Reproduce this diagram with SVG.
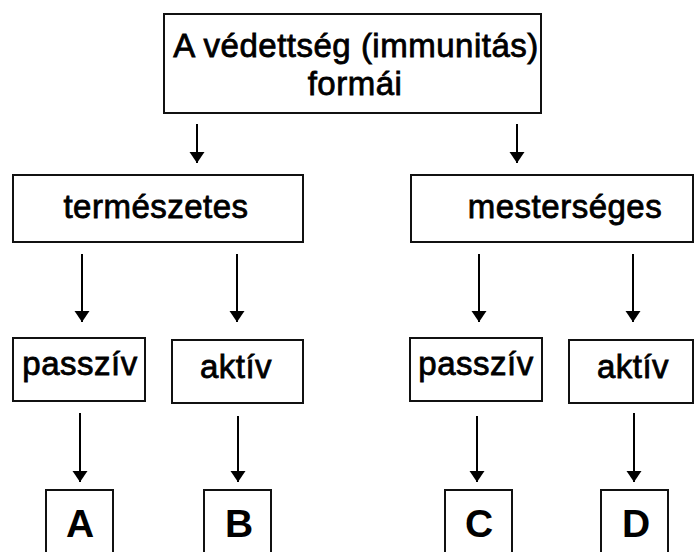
<svg xmlns="http://www.w3.org/2000/svg" width="695" height="552" viewBox="0 0 695 552">
<style>
.box{fill:#fff;stroke:#111;stroke-width:2}
.t{font-family:"Liberation Sans",Arial,sans-serif;font-size:33px;fill:#000;stroke:#000;stroke-width:0.8;text-anchor:middle;letter-spacing:0.5px}
.b{font-family:"Liberation Sans",Arial,sans-serif;font-size:39px;font-weight:bold;fill:#000;text-anchor:middle}
.c{stroke:#000;stroke-width:2;fill:none;marker-end:url(#ah)}
</style>
<defs>
<marker id="ah" markerUnits="userSpaceOnUse" markerWidth="12" markerHeight="16" refX="11" refY="7.5" orient="auto">
<path d="M0,0 L11,7.5 L0,15 Z" fill="#000"/>
</marker>
</defs>
<rect width="695" height="552" fill="#fff"/>
<g id="connectors">
<line class="c" x1="197" y1="124" x2="197" y2="163"/>
<line class="c" x1="517" y1="124" x2="517" y2="163"/>
<line class="c" x1="82" y1="254" x2="82" y2="322"/>
<line class="c" x1="237" y1="254" x2="237" y2="322"/>
<line class="c" x1="479" y1="254" x2="479" y2="322"/>
<line class="c" x1="633" y1="254" x2="633" y2="322"/>
<line class="c" x1="80" y1="413" x2="80" y2="482"/>
<line class="c" x1="238" y1="416" x2="238" y2="482"/>
<line class="c" x1="477" y1="416" x2="477" y2="482"/>
<line class="c" x1="634" y1="413" x2="634" y2="482"/>
</g>
<g id="root">
<rect class="box" x="164" y="14" width="377" height="99"/>
<text class="t" x="356" y="57">A védettség (immunitás)</text>
<text class="t" x="355" y="95">formái</text>
</g>
<g id="termeszetes">
<rect class="box" x="13" y="175" width="290" height="67"/>
<text class="t" x="156" y="218">természetes</text>
</g>
<g id="mesterseges">
<rect class="box" x="411" y="175" width="282" height="67"/>
<text class="t" x="565" y="218">mesterséges</text>
</g>
<g id="passziv1">
<rect class="box" x="13" y="338" width="132" height="63"/>
<text class="t" x="80" y="375">passzív</text>
</g>
<g id="aktiv1">
<rect class="box" x="172" y="340" width="131" height="63"/>
<text class="t" x="236" y="378">aktív</text>
</g>
<g id="passziv2">
<rect class="box" x="410" y="338" width="132" height="63"/>
<text class="t" x="476" y="375">passzív</text>
</g>
<g id="aktiv2">
<rect class="box" x="569" y="340" width="124" height="63"/>
<text class="t" x="633" y="378">aktív</text>
</g>
<g id="A">
<rect class="box" x="46" y="490" width="67" height="80"/>
<text class="b" x="80" y="537">A</text>
</g>
<g id="B">
<rect class="box" x="204" y="490" width="67" height="80"/>
<text class="b" x="239" y="537">B</text>
</g>
<g id="C">
<rect class="box" x="445" y="490" width="67" height="80"/>
<text class="b" x="479" y="537">C</text>
</g>
<g id="D">
<rect class="box" x="601" y="490" width="67" height="80"/>
<text class="b" x="636" y="537">D</text>
</g>
</svg>
